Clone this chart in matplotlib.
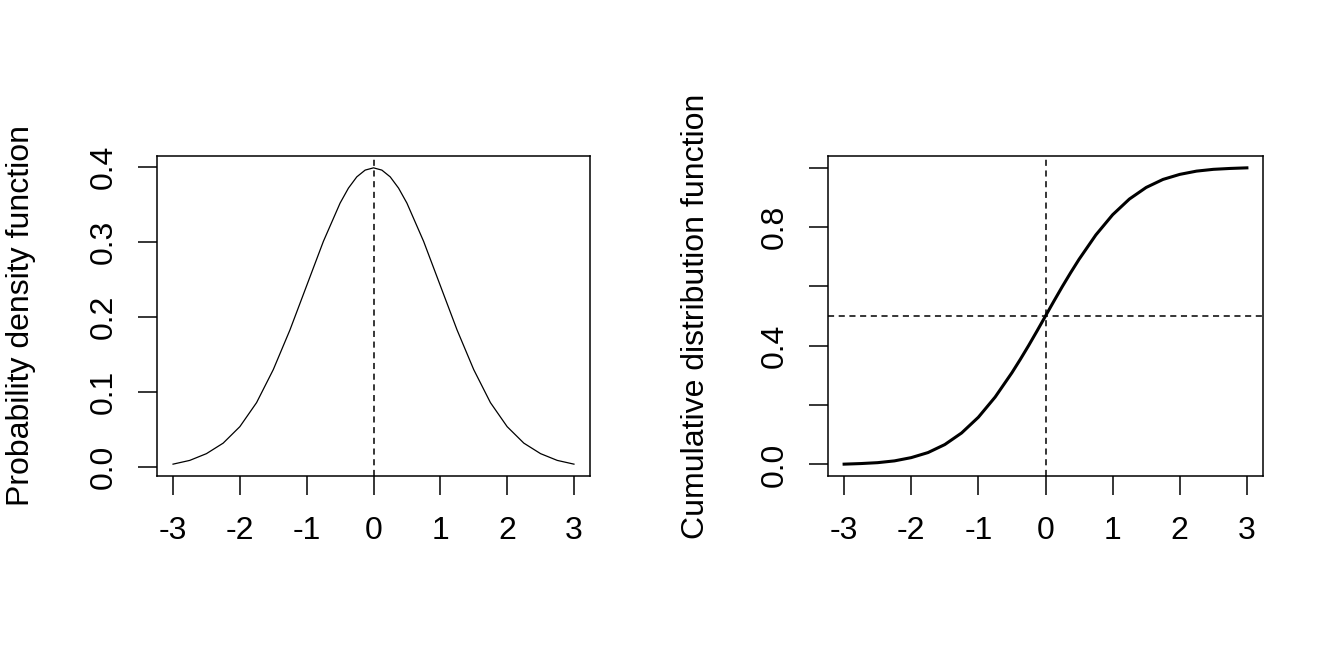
import matplotlib.pyplot as plt

plt.rcParams['font.family'] = ['Liberation Sans', 'DejaVu Sans']

# values
xs = [-3.0, -2.75, -2.5, -2.25, -2.0, -1.75, -1.5, -1.25, -1.0, -0.75, -0.5, -0.375, -0.25, -0.125, 0.0,
      0.125, 0.25, 0.375, 0.5, 0.75, 1.0, 1.25, 1.5, 1.75, 2.0, 2.25, 2.5, 2.75, 3.0]
pdf = [0.004, 0.009, 0.018, 0.032, 0.054, 0.086, 0.130, 0.183, 0.242, 0.301, 0.352, 0.372, 0.387, 0.396, 0.399,
       0.396, 0.387, 0.372, 0.352, 0.301, 0.242, 0.183, 0.130, 0.086, 0.054, 0.032, 0.018, 0.009, 0.004]
cdf = [0.001, 0.003, 0.006, 0.012, 0.023, 0.040, 0.067, 0.106, 0.159, 0.227, 0.309, 0.354, 0.401, 0.450, 0.500,
       0.550, 0.599, 0.646, 0.691, 0.773, 0.841, 0.894, 0.933, 0.960, 0.977, 0.988, 0.994, 0.997, 0.999]

x_ticks = [-3, -2, -1, 0, 1, 2, 3]
pdf_ticks = [0.0, 0.1, 0.2, 0.3, 0.4]
pdf_labels = ['0.0', '0.1', '0.2', '0.3', '0.4']
cdf_ticks = [0.0, 0.2, 0.4, 0.6, 0.8, 1.0]
cdf_labels = ['0.0', '', '0.4', '', '0.8', '']

FS = 23


def r_lim(vals):
    lo, hi = min(vals), max(vals)
    pad = 0.04 * (hi - lo)
    return lo - pad, hi + pad


def style_axes(ax, ys, yticks, ylabels, ylabel, ylab_x):
    ax.set_xlim(r_lim(xs))
    ax.set_ylim(r_lim(ys))
    for s in ax.spines.values():
        s.set_linewidth(1.1)
    ax.tick_params(direction='out', length=13.5, width=1.1, labelsize=FS)
    ax.tick_params(axis='x', pad=15)
    ax.tick_params(axis='y', pad=14)
    ax.set_xticks(x_ticks)
    ax.set_xticklabels([str(t) for t in x_ticks])
    ax.set_yticks(yticks)
    ax.set_yticklabels(ylabels, rotation=90, va='center')
    ax.set_ylabel(ylabel, fontsize=FS)
    ax.yaxis.set_label_coords(ylab_x, 0.5)


fig = plt.figure(figsize=(13.44, 6.72), dpi=100)

ax1 = fig.add_axes([157 / 1344, 1 - 476 / 672, 433 / 1344, 320 / 672])
ax1.plot(xs, pdf, color='black', lw=0.9)
ax1.axvline(0, color='black', lw=1.1, ls=(0, (4, 3)))
style_axes(ax1, pdf, pdf_ticks, pdf_labels, 'Probability density function', -0.28)

ax2 = fig.add_axes([828 / 1344, 1 - 476 / 672, 435 / 1344, 320 / 672])
ax2.plot(xs, cdf, color='black', lw=2.2)
ax2.axvline(0, color='black', lw=1.1, ls=(0, (4, 3)))
ax2.axhline(0.5, color='black', lw=1.1, ls=(0, (4, 3)))
style_axes(ax2, cdf, cdf_ticks, cdf_labels, 'Cumulative distribution function', -0.268)

fig.savefig('out.png', dpi=100)
